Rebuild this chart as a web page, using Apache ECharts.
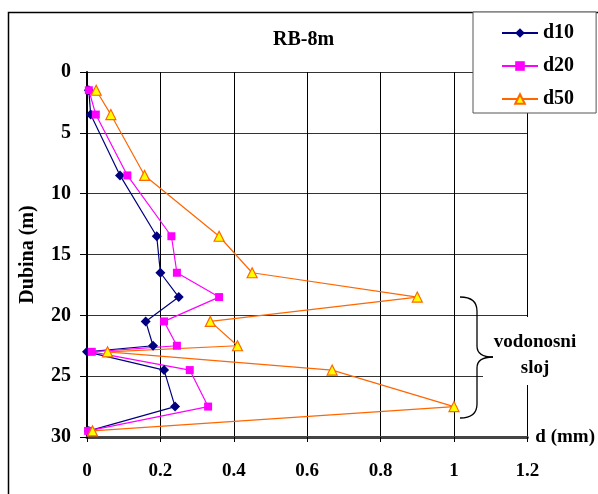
<!DOCTYPE html>
<html>
<head>
<meta charset="UTF-8">
<title>RB-8m</title>
<script src="https://cdn.jsdelivr.net/npm/echarts@6/dist/echarts.min.js"></script>
<style>
	html, body { margin: 0; padding: 0; background: #fff; }
	#chart { width: 598px; height: 494px; }
</style>
</head>
<body>
	<div id="chart"></div>
	<script>
	// dubina (m) i granulometrija d (mm)
	var depths = [ 1.5, 3.5, 8.5, 13.5, 16.5, 18.5, 20.5, 22.5, 23, 24.5, 27.5, 29.5 ];
	var d10 = [ 0.005, 0.01, 0.09, 0.19, 0.2, 0.25, 0.16, 0.18, 0.0, 0.21, 0.24, 0.005 ];
	var d20 = [ 0.005, 0.024, 0.11, 0.23, 0.245, 0.36, 0.21, 0.245, 0.013, 0.28, 0.33, 0.003 ];
	var d50 = [ 0.025, 0.065, 0.157, 0.36, 0.45, 0.9, 0.336, 0.41, 0.056, 0.668, 1.0, 0.015 ];
	var seriesNames = [ 'd10', 'd20', 'd50' ];

	function pairs(vals) {
	    return vals.map(function(v, i) {
		return [ v, depths[i] ];
	    });
	}

	var font = 'Liberation Serif';
	var braceStyle = { stroke : '#000', lineWidth : 1.3, fill : null };
	function curve(x1, y1, cx, cy, x2, y2) {
	    return {
		type : 'bezierCurve',
		z : 51,
		shape : { x1 : x1, y1 : y1, cpx1 : cx, cpy1 : cy, x2 : x2, y2 : y2 },
		style : braceStyle
	    };
	}
	function seg(x1, y1, x2, y2) {
	    return {
		type : 'line',
		z : 51,
		shape : { x1 : x1, y1 : y1, x2 : x2, y2 : y2 },
		style : braceStyle
	    };
	}

	var chart = echarts.init(document.getElementById('chart'));
	var option = {
	    animation : false,
	    title : {
		text : 'RB-8m',
		left : 268,
		top : 25,
		textStyle : {
		    fontFamily : font,
		    fontWeight : 'bold',
		    fontSize : 20,
		    color : '#000'
		}
	    },
	    legend : {
		data : seriesNames,
		orient : 'vertical',
		left : 473,
		top : 12,
		padding : [ 11, 22, 4, 28 ],
		itemWidth : 36,
		itemHeight : 12,
		itemGap : 13,
		backgroundColor : '#fff',
		borderColor : '#555',
		borderWidth : 1,
		textStyle : {
		    fontFamily : font,
		    fontWeight : 'bold',
		    fontSize : 20,
		    color : '#000'
		}
	    },
	    grid : {
		left : 87,
		right : 70,
		top : 72,
		bottom : 57
	    },
	    xAxis : {
		type : 'value',
		min : 0,
		max : 1.2,
		interval : 0.2,
		name : 'd (mm)',
		nameLocation : 'end',
		nameGap : 8,
		nameTextStyle : {
		    fontFamily : font,
		    fontWeight : 'bold',
		    fontSize : 19,
		    color : '#000',
		    align : 'left',
		    verticalAlign : 'middle'
		},
		axisLine : {
		    onZero : false,
		    lineStyle : { color : '#444', width : 3 }
		},
		axisTick : {
		    show : true,
		    length : 5,
		    lineStyle : { color : '#000' }
		},
		axisLabel : {
		    margin : 25,
		    fontFamily : font,
		    fontWeight : 'bold',
		    fontSize : 19,
		    color : '#000'
		},
		splitLine : {
		    show : true,
		    lineStyle : { color : '#000', width : 1 }
		}
	    },
	    yAxis : {
		type : 'value',
		inverse : true,
		min : 0,
		max : 30,
		interval : 5,
		name : 'Dubina (m)',
		nameLocation : 'middle',
		nameGap : 49,
		nameTextStyle : {
		    fontFamily : font,
		    fontWeight : 'bold',
		    fontSize : 20,
		    color : '#000'
		},
		axisLine : {
		    onZero : false,
		    lineStyle : { color : '#000', width : 2 }
		},
		axisTick : {
		    show : true,
		    length : 7,
		    lineStyle : { color : '#000' }
		},
		axisLabel : {
		    margin : 16,
		    fontFamily : font,
		    fontWeight : 'bold',
		    fontSize : 20,
		    color : '#000'
		},
		splitLine : {
		    show : true,
		    lineStyle : { color : '#333', width : 1 }
		}
	    },
	    series : [ {
		name : 'd10',
		type : 'line',
		data : pairs(d10),
		symbol : 'diamond',
		symbolSize : 10,
		lineStyle : { color : '#000080', width : 1.2 },
		itemStyle : { color : '#000080' }
	    }, {
		name : 'd20',
		type : 'line',
		data : pairs(d20),
		symbol : 'rect',
		symbolSize : 8,
		lineStyle : { color : '#ff00ff', width : 1.2 },
		itemStyle : { color : '#ff00ff' }
	    }, {
		name : 'd50',
		type : 'line',
		data : pairs(d50),
		symbol : 'triangle',
		symbolSize : 10,
		lineStyle : { color : '#ff6600', width : 1.2 },
		itemStyle : { color : '#ffff00', borderColor : '#ff6600', borderWidth : 1.2 }
	    } ],
	    graphic : [ {
		// okvir grafikona
		type : 'rect',
		z : -10,
		shape : { x : 8.5, y : 12.5, width : 600, height : 500 },
		style : { fill : null, stroke : '#000', lineWidth : 1.5 }
	    }, {
		type : 'rect',
		z : 50,
		shape : { x : 483, y : 317, width : 108, height : 68 },
		style : { fill : '#fff' }
	    },
	    // viticasta zagrada
	    curve(460, 297, 477, 297, 477, 311),
	    seg(477, 311, 477, 346),
	    curve(477, 346, 477, 357, 493, 357),
	    curve(493, 357, 477, 357, 477, 368),
	    seg(477, 368, 477, 404),
	    curve(477, 404, 477, 418, 460, 418),
	    {
		type : 'text',
		z : 52,
		x : 535,
		y : 329,
		style : {
		    text : 'vodonosni\nsloj',
		    align : 'center',
		    lineHeight : 26,
		    font : 'bold 19px "Liberation Serif"',
		    fill : '#000'
		}
	    } ]
	};
	chart.setOption(option);
    </script>
</body>
</html>
